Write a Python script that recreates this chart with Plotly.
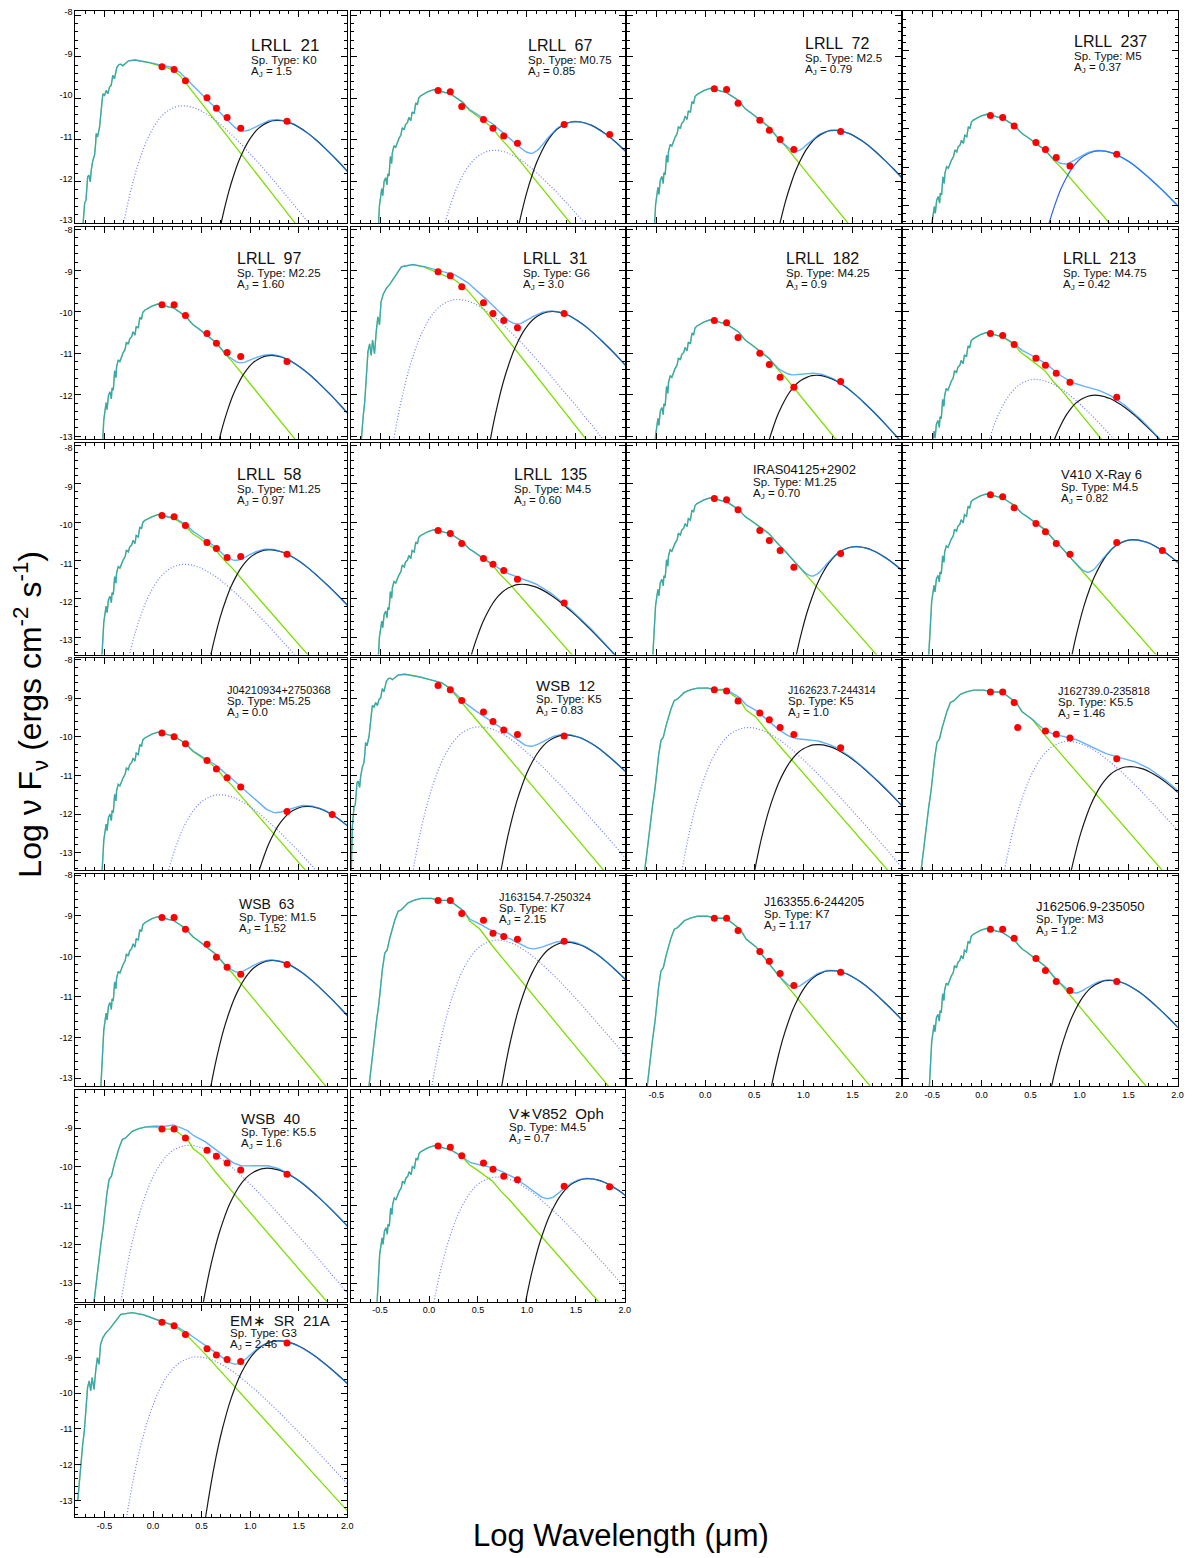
import numpy as np
import plotly.graph_objects as go

# ---------------- templates ----------------
# disk component shape (offset from peak in log wavelength, drop from peak in dex)
BB_U = [-0.80, -0.75, -0.70, -0.65, -0.60, -0.55, -0.50, -0.45, -0.40, -0.35, -0.30, -0.25,
        -0.20, -0.15, -0.10, -0.05, 0.00, 0.05, 0.10, 0.15, 0.20, 0.30, 0.40, 0.50, 0.60, 0.70,
        0.80, 0.90, 1.00, 1.10, 1.20, 1.30, 1.40, 1.50, 1.75, 2.00, 2.50]
BB_D = [-5.85, -4.88, -4.04, -3.31, -2.68, -2.15, -1.69, -1.31, -0.98, -0.72, -0.50, -0.33,
        -0.20, -0.11, -0.05, -0.01, 0.00, -0.01, -0.04, -0.08, -0.14, -0.29, -0.48, -0.70, -0.93, -1.18,
        -1.44, -1.71, -1.99, -2.27, -2.55, -2.84, -3.13, -3.43, -4.17, -4.91, -6.40]

# photosphere shapes (offset from peak in log wavelength, relative log flux)
TPL_K_DX = [-0.56, -0.536, -0.519, -0.505, -0.488, -0.475, -0.461, -0.451, -0.434, -0.417, -0.406,
            -0.400, -0.386, -0.365, -0.342, -0.331, -0.314, -0.297, -0.280, -0.263, -0.246,
            -0.229, -0.212, -0.188, -0.167, -0.147, -0.126, -0.102, -0.068, 0.0, 0.051,
            0.154, 0.256, 0.376, 0.461, 0.529, 0.632, 0.8, 1.0, 1.5, 2.0, 2.5, 3.0]
TPL_K_DY = [-6.5, -3.96, -3.44, -3.37, -2.81, -2.77, -2.93, -2.65, -2.41, -2.29, -2.01,
            -1.77, -1.85, -1.61, -1.05, -0.81, -0.85, -0.73, -0.81, -0.65, -0.61,
            -0.37, -0.45, -0.18, -0.11, -0.10, -0.14, -0.08, -0.02, 0.0, -0.02,
            -0.07, -0.14, -0.22, -0.37, -0.57, -0.88, -1.38, -1.98, -3.48, -4.98, -6.48, -7.98]

TPL_M_DX = [-0.62, -0.60, -0.557, -0.533, -0.523, -0.509, -0.493, -0.479, -0.472, -0.459,
            -0.445, -0.432, -0.425, -0.408, -0.391, -0.374, -0.358, -0.337, -0.324, -0.304,
            -0.290, -0.270, -0.256, -0.236, -0.223, -0.202, -0.186, -0.169, -0.155, -0.135,
            -0.101, -0.061, 0.0, 0.047, 0.108, 0.159, 0.209, 0.260, 0.294, 0.327,
            0.361, 0.412, 0.479, 0.547, 0.597, 0.682, 0.766, 1.0, 1.255, 1.5,
            2.0, 2.5, 3.0]
TPL_M_DY = [-6.5, -4.8, -2.80, -2.38, -2.55, -2.21, -2.12, -2.29, -2.03, -2.08,
            -1.61, -1.78, -1.52, -1.35, -1.39, -1.26, -1.18, -1.09, -0.92, -0.97,
            -0.84, -0.79, -0.67, -0.75, -0.54, -0.58, -0.32, -0.37, -0.20, -0.15,
            -0.11, -0.05, 0.0, -0.02, -0.07, -0.09, -0.17, -0.26, -0.30, -0.41,
            -0.50, -0.58, -0.71, -0.84, -0.92, -1.18, -1.39, -2.07, -2.80, -3.51,
            -4.96, -6.41, -7.86]

TPL_K5_DX = [-0.64, -0.615, -0.594, -0.581, -0.561, -0.537, -0.513, -0.493, -0.476, -0.452,
             -0.428, -0.40, -0.377, -0.35, -0.316, -0.283, -0.214, -0.146, -0.079, 0.023,
             0.108, 0.21, 0.356, 0.414, 0.516, 0.651, 0.8, 1.0, 1.5, 2.0, 2.5, 3.0]
TPL_K5_DY = [-6.5, -4.66, -4.23, -3.93, -3.46, -3.03, -2.60, -2.08, -1.74, -1.35,
             -1.27, -0.97, -0.75, -0.54, -0.32, -0.28, -0.11, -0.04, 0.0, 0.0,
             -0.05, -0.05, -0.32, -0.56, -0.75, -1.18, -1.62, -2.20, -3.66, -5.12, -6.58, -8.04]

TPL_G_DX = [-0.561, -0.548, -0.527, -0.51, -0.493, -0.477, -0.46, -0.443, -0.427, -0.413,
            -0.393, -0.376, -0.359, -0.342, -0.326, -0.302, -0.269, -0.236, -0.201, -0.158,
            -0.118, 0.0, 0.116, 0.318, 0.428, 0.553, 0.754, 0.9, 1.2, 1.5, 2.0, 2.5, 3.0]
TPL_G_DY = [-5.27, -4.80, -4.25, -3.69, -3.31, -2.66, -2.10, -1.91, -2.19, -1.82,
            -2.15, -1.63, -1.26, -1.45, -0.89, -0.70, -0.56, -0.47, -0.33, -0.19,
            -0.05, 0.0, -0.06, -0.27, -0.37, -0.61, -1.17, -1.61, -2.51, -3.41, -4.91, -6.41, -7.91]

TEMPLATES = {"K": (TPL_K_DX, TPL_K_DY), "M": (TPL_M_DX, TPL_M_DY),
             "K5": (TPL_K5_DX, TPL_K5_DY), "G": (TPL_G_DX, TPL_G_DY)}

# ---------------- per-star values ----------------
NAMES = ["LRLL  21", "LRLL  67", "LRLL  72", "LRLL  237",
         "LRLL  97", "LRLL  31", "LRLL  182", "LRLL  213",
         "LRLL  58", "LRLL  135", "IRAS04125+2902", "V410 X-Ray 6",
         "J04210934+2750368", "WSB  12", "J162623.7-244314", "J162739.0-235818",
         "WSB  63", "J163154.7-250324", "J163355.6-244205", "J162506.9-235050",
         "WSB  40", "V\u2217V852  Oph", "EM\u2217  SR  21A"]
SPTYPES = ["K0", "M0.75", "M2.5", "M5", "M2.25", "G6", "M4.25", "M4.75",
           "M1.25", "M4.5", "M1.25", "M4.5", "M5.25", "K5", "K5", "K5.5",
           "M1.5", "K7", "K7", "M3", "K5.5", "M4.5", "G3"]
AJ = ["1.5", "0.85", "0.79", "0.37", "1.60", "3.0", "0.9", "0.42",
      "0.97", "0.60", "0.70", "0.82", "0.0", "0.83", "1.0", "1.46",
      "1.52", "2.15", "1.17", "1.2", "1.6", "0.7", "2.46"]

PHOT_TPL = ["K", "M", "M", "M", "M", "G", "M", "M",
            "M", "M", "M", "M", "M", "K", "K5", "K5",
            "M", "K5", "K5", "M", "K5", "M", "G"]
PHOT_PEAK_X = [-0.185, 0.05, 0.05, 0.053, 0.05, -0.164, 0.05, 0.05,
               0.05, 0.05, 0.05, 0.05, 0.05, -0.248, 0.0, 0.0,
               0.05, 0.0, 0.0, 0.05, 0.0, 0.053, -0.214]
PHOT_PEAK_Y = [-9.08, -9.79, -9.76, -10.64, -9.81, -8.86, -10.19, -10.50,
               -9.81, -10.20, -9.37, -9.27, -9.88, -8.38, -8.74, -8.79,
               -9.02, -8.57, -9.01, -9.31, -8.97, -9.45, -7.74]

INNER_PEAK_X = [0.31, 0.67, None, None, None, 0.295, None, 0.55,
                0.327, None, None, None, 0.69, 0.516, 0.44, 0.888,
                None, 0.70, None, None, 0.37, 0.694, 0.456]
INNER_PEAK_Y = [-10.18, -11.25, None, None, None, -9.70, None, -11.63,
                -11.10, None, None, None, -11.50, -9.74, -9.76, -10.12,
                None, -9.60, None, None, -9.44, -10.26, -8.98]

OUTER_PEAK_X = [1.283, 1.50, 1.32, 1.211, 1.22, 1.26, 1.135, 1.16,
                1.20, 0.95, 1.54, 1.55, 1.59, 1.40, 1.15, 1.517,
                1.23, 1.41, 1.29, 1.31, 1.18, 1.627, 1.295]
OUTER_PEAK_Y = [-10.53, -10.56, -10.77, -11.58, -11.05, -9.99, -11.53, -12.01,
                -10.72, -11.62, -10.64, -10.46, -11.80, -9.95, -10.20, -10.77,
                -10.10, -9.65, -10.35, -10.59, -10.03, -10.30, -8.53]

BANDS_X = [0.092, 0.217, 0.334, 0.556, 0.653, 0.763, 0.903, 1.380, 1.845]
BANDS_X_J162739 = [0.092, 0.217, 0.334, 0.37, 0.653, 0.763, 0.903, 1.380]

DOT_Y = [
    [-9.24, -9.31, -9.58, -9.99, -10.24, -10.46, -10.72, -10.55],
    [-9.81, -9.84, -10.20, -10.51, -10.72, -10.91, -11.08, -10.63, -10.87],
    [-9.77, -9.79, -10.12, -10.53, -10.77, -10.99, -11.23, -10.80],
    [-10.67, -10.72, -10.94, -11.37, -11.55, -11.75, -11.97, -11.67],
    [-9.825, -9.825, -10.09, -10.52, -10.76, -10.98, -11.08, -11.20],
    [-9.03, -9.13, -9.39, -9.78, -10.04, -10.21, -10.38, -10.04],
    [-10.21, -10.26, -10.62, -11.00, -11.27, -11.58, -11.82, -11.68],
    [-10.52, -10.57, -10.79, -11.12, -11.29, -11.48, -11.70, -12.06],
    [-9.83, -9.86, -10.09, -10.53, -10.69, -10.92, -10.90, -10.84],
    [-10.22, -10.30, -10.56, -10.95, -11.10, -11.26, -11.49, -12.11],
    [-9.39, -9.42, -9.68, -10.22, -10.48, -10.74, -11.18, -10.82],
    [-9.29, -9.34, -9.63, -10.04, -10.25, -10.56, -10.84, -10.53, -10.74],
    [-9.90, -10.00, -10.18, -10.61, -10.83, -11.06, -11.30, -11.93, -12.01],
    [-8.67, -8.78, -9.06, -9.36, -9.60, -9.82, -9.94, -9.98],
    [-8.78, -8.81, -9.07, -9.38, -9.56, -9.76, -9.94, -10.28],
    [-8.84, -8.84, -9.11, -9.76, -9.85, -9.93, -10.03, -10.57],
    [-9.04, -9.04, -9.33, -9.70, -10.02, -10.27, -10.44, -10.20],
    [-8.62, -8.62, -8.94, -9.11, -9.43, -9.51, -9.58, -9.63],
    [-9.06, -9.06, -9.36, -9.88, -10.12, -10.42, -10.72, -10.39],
    [-9.33, -9.33, -9.55, -10.05, -10.35, -10.62, -10.84, -10.62],
    [-9.02, -9.02, -9.25, -9.57, -9.72, -9.90, -10.08, -10.19],
    [-9.455, -9.49, -9.71, -9.90, -10.06, -10.24, -10.33, -10.50, -10.51],
    [-8.01, -8.11, -8.35, -8.75, -8.93, -9.05, -9.11, -8.59],
]

# ---------------- layout (page pixels) ----------------
W, H = 1194, 1558
COL_L = [75.7, 352.5, 630.0, 907.5]
COL_R = [349.0, 628.0, 906.0, 1183.5]
ROW_T = [7, 224, 440.5, 657, 874, 1090.5, 1307]
ROW_B = [220, 437, 653.5, 870, 1087, 1303.5, 1520]
POS = [(r, c) for r in range(5) for c in range(4)] + [(5, 0), (5, 1), (6, 0)]
YRANGES = ([(-13.0, -7.9)] * 3 + [(-13.44, -7.98)] + [(-13.07, -7.95)] * 4 +
           [(-13.45, -7.93)] * 4 + [(-13.45, -7.96)] * 4 + [(-13.2, -7.97)] * 4 +
           [(-13.48, -8.0)] * 2 + [(-13.47, -7.53)])
YSHIFT = [-3, 1, 3, 0, 0, 0, 0]
XLAB = {18, 19, 21, 22}
LABEL_PX = [250, 529, 807, 1077, 236, 524, 788, 1066, 236, 515, 755, 1064,
            226, 537, 790, 1061, 238, 500, 766, 1039, 240, 510, 229]
LABEL_PY = [42, 42, 40, 38, 256, 256, 256, 256, 473, 473, 468, 473,
            689, 685, 689, 690, 904, 897, 902, 907, 1120, 1115, 1322]
LABEL_FS = [17, 16, 16, 16, 16, 16, 16, 16, 16, 16, 13, 13,
            11, 15, 10.5, 11, 14, 11, 12, 13, 15, 15, 15]


def px_x(p):
    return p / W


def px_y(p):
    return 1 - p / H


FONT = "Liberation Sans"
GREEN = "#7ee000"
TOTAL = "#1a8cff"
DOTC = "#6f80ff"

fig = go.Figure()
layout = {}
annotations = []

for i in range(len(NAMES)):
    r, c = POS[i]
    k = i + 1
    xa = "x" if k == 1 else f"x{k}"
    ya = "y" if k == 1 else f"y{k}"
    ymin, ymax = YRANGES[i]

    tdx, tdy = TEMPLATES[PHOT_TPL[i]]
    tx = np.array(tdx) + PHOT_PEAK_X[i]
    ty = np.array(tdy) + PHOT_PEAK_Y[i]

    # model sum evaluated on the template points plus a sampling of the long-wavelength part
    xs = np.union1d(tx[tx < 0.3], np.arange(0.3, 2.06, 0.02))
    tot = 10.0 ** np.interp(xs, tx, ty)
    comps = []
    if INNER_PEAK_X[i] is not None:
        comps.append((INNER_PEAK_X[i], INNER_PEAK_Y[i], "inner"))
    comps.append((OUTER_PEAK_X[i], OUTER_PEAK_Y[i], "outer"))
    for cx, cy, _ in comps:
        tot = tot + 10.0 ** (np.interp(xs - cx, BB_U, BB_D, left=-40, right=-40) + cy)
    total = np.log10(tot)

    fig.add_trace(go.Scatter(x=tx, y=ty, xaxis=xa, yaxis=ya, mode="lines",
                             line=dict(color=GREEN, width=1.3), showlegend=False, hoverinfo="skip"))
    for cx, cy, kind in comps:
        bx = np.array(BB_U) + cx
        by = np.array(BB_D) + cy
        if kind == "inner":
            ln = dict(color=DOTC, width=1.2, dash="1px,2px", shape="spline")
        else:
            ln = dict(color="#3060f0" if i == 3 else "#1a1a1a", width=1.2, shape="spline")
        fig.add_trace(go.Scatter(x=bx, y=by, xaxis=xa, yaxis=ya, mode="lines",
                                 line=ln, showlegend=False, hoverinfo="skip"))
    fig.add_trace(go.Scatter(x=xs, y=total, xaxis=xa, yaxis=ya, mode="lines", opacity=0.68,
                             line=dict(color=TOTAL, width=1.4), showlegend=False, hoverinfo="skip"))
    dx = BANDS_X_J162739 if i == 15 else BANDS_X[:len(DOT_Y[i])]
    fig.add_trace(go.Scatter(x=dx, y=DOT_Y[i], xaxis=xa, yaxis=ya, mode="markers",
                             marker=dict(color="#ff0000", size=7, line=dict(width=0)),
                             showlegend=False, hoverinfo="skip"))

    yt = [v for v in range(-13, -7) if ymin <= v <= ymax - 0.01]
    common = dict(showline=True, linecolor="black", linewidth=1, mirror="allticks",
                  ticks="inside", tickcolor="black", tickwidth=1, showgrid=False, zeroline=False,
                  tickfont=dict(family=FONT, size=9, color="black"))
    layout["xaxis" if k == 1 else f"xaxis{k}"] = dict(
        domain=[px_x(COL_L[c]), px_x(COL_R[c])], anchor=ya, range=[-0.8, 2.0],
        tickmode="array", tickvals=[-0.5, 0.0, 0.5, 1.0, 1.5, 2.0],
        ticktext=["-0.5", "0.0", "0.5", "1.0", "1.5", "2.0"], ticklen=6,
        showticklabels=(i in XLAB),
        minor=dict(ticks="inside", ticklen=3, tickcolor="black", dtick=0.1, tick0=0.0),
        **common)
    layout["yaxis" if k == 1 else f"yaxis{k}"] = dict(
        domain=[px_y(ROW_B[r]), px_y(ROW_T[r])], anchor=xa, range=[ymin, ymax],
        tickmode="array", tickvals=yt, ticktext=[str(v) for v in yt], ticklen=6,
        showticklabels=(c == 0), ticklabelshift=YSHIFT[r],
        minor=dict(ticks="inside", ticklen=3, tickcolor="black", dtick=0.2, tick0=0.0),
        **common)

    fs = LABEL_FS[i]
    d1 = 0.5 * fs + 6
    d2 = d1 + 12
    lx = px_x(LABEL_PX[i])
    for txt, py, size in [(NAMES[i], LABEL_PY[i], fs),
                          (f"Sp. Type: {SPTYPES[i]}", LABEL_PY[i] + d1, 11.5),
                          (f"A<sub>J</sub> = {AJ[i]}", LABEL_PY[i] + d2, 11.5)]:
        annotations.append(dict(x=lx, y=px_y(py), xref="paper", yref="paper", text=txt,
                                showarrow=False, xanchor="left", yanchor="middle",
                                font=dict(family=FONT, size=size, color="#111111")))

annotations.append(dict(x=px_x(624), y=px_y(1538), xref="paper", yref="paper",
                        text="Log Wavelength (\u03bcm)", showarrow=False,
                        xanchor="center", yanchor="middle",
                        font=dict(family=FONT, size=31, color="black")))
annotations.append(dict(x=px_x(31), y=px_y(713), xref="paper", yref="paper",
                        text="Log \u03bd F<sub>\u03bd</sub> (ergs cm<sup>-2</sup> s<sup>-1</sup>)",
                        showarrow=False, textangle=-90, xanchor="center", yanchor="middle",
                        font=dict(family=FONT, size=32, color="black")))

fig.update_layout(width=W, height=H, margin=dict(l=0, r=0, t=0, b=0),
                  paper_bgcolor="white", plot_bgcolor="white",
                  annotations=annotations, **layout)
fig.write_html("out.html", config={"displayModeBar": False},
               post_script="document.body.style.margin='0px';document.body.style.overflow='hidden';")
